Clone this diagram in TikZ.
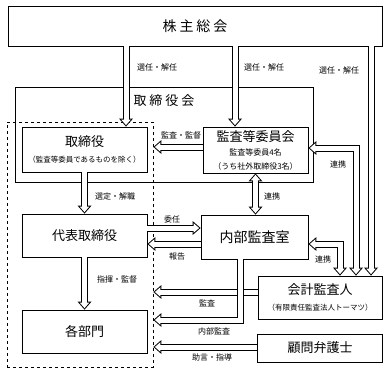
\documentclass[tikz,border=0pt]{standalone}
\usepackage{fontspec}
\setmainfont{Noto Sans CJK JP}
\usetikzlibrary{arrows.meta}

\newcommand{\fsize}[1]{\fontsize{#1}{#1}\selectfont}

\begin{document}
\begin{tikzpicture}[x=1pt, y=-1pt,
    box/.style={draw, line width=0.8pt, inner sep=0pt, align=center, font=\fsize{13}},
    lbl/.style={inner sep=0pt, font=\fsize{8}},
    harrow/.style={line width=7pt, line join=miter,
        -{Triangle[length=8pt, width=14pt, line width=0pt]},
        postaction={draw=white, line width=5pt, shorten >=1.5pt,
            -{Triangle[length=5.5pt, width=9.6pt, line width=0pt]}}},
    hboth/.style={line width=7pt, line join=miter,
        {Triangle[length=8pt, width=14pt, line width=0pt]}-{Triangle[length=8pt, width=14pt, line width=0pt]},
        postaction={draw=white, line width=5pt, shorten >=1.5pt, shorten <=1.5pt,
            {Triangle[length=5.5pt, width=9.6pt, line width=0pt]}-{Triangle[length=5.5pt, width=9.6pt, line width=0pt]}}}]
    \useasboundingbox (0,0) rectangle (387,372);

    % 1. Boxes
    \node[box, minimum width=374pt, minimum height=40pt, font=\fsize{14}] (kabu) at (195,26) {株\kern3pt 主\kern3pt 総\kern3pt 会};
    \node[box, minimum width=298pt, minimum height=95pt] (board) at (164,134.5) {};
    \node[inner sep=0pt, font=\fsize{13}] (boardtitle) at (164,101) {取\kern3pt 締\kern3pt 役\kern3pt 会};
    \node[draw, dashed, line width=0.8pt, minimum width=146pt, minimum height=245pt] (dash) at (80,244.5) {};

    \node[box, minimum width=125pt, minimum height=45pt] (tori) at (84.5,149.5) {取締役\\[3pt]\fsize{7.5}（監査等委員であるものを除く）};
    \node[box, minimum width=125pt, minimum height=43pt] (daihyo) at (84.5,235.5) {代表取締役};
    \node[box, minimum width=125pt, minimum height=43pt] (kakubu) at (84.5,331.5) {各部門};

    \node[box, minimum width=105pt, minimum height=46pt] (kansa) at (255.5,150) {監査等委員会\\[1pt]\fsize{8}監査等委員4名\\[1pt]\fsize{8}（うち社外取締役3名）};
    \node[box, minimum width=107pt, minimum height=44pt, font=\fsize{14}] (naibu) at (254.5,237) {内部監査室};
    \node[box, minimum width=124pt, minimum height=43pt] (kaikei) at (320,297.5) {会計監査人\\[3pt]\fsize{7.5}（有限責任監査法人トーマツ）};
    \node[box, minimum width=125pt, minimum height=28pt] (komon) at (320,348) {顧問弁護士};

    % 2. Arrows from the shareholders
    \draw[harrow] ([xshift=-69pt]kabu.south) -- ([xshift=41.5pt]tori.north);
    \draw[harrow] ([xshift=40pt]kabu.south) -- ([xshift=-20.5pt]kansa.north);
    \draw[harrow] ([xshift=176pt]kabu.south) -- ([xshift=51pt]kaikei.north);

    % 3. Arrows inside the board
    \draw[harrow] ([yshift=3pt]kansa.west) -- ([yshift=3pt]kansa.west -| dash.east);
    \draw[harrow] (tori.south) -- (daihyo.north);
    \draw[harrow] ([yshift=7.5pt]daihyo.east) -- ([yshift=7.5pt]daihyo.east -| naibu.west);
    \draw[harrow] ([yshift=-7pt]naibu.west) -- ([yshift=-7pt]naibu.west -| daihyo.east);
    \draw[hboth] (kansa.south) -- (kansa.south |- naibu.north);
    \draw[harrow] (daihyo.south) -- (kakubu.north);

    % 4. Links to the auditor
    \draw[hboth] ([yshift=2pt]kansa.east) -| ([xshift=36pt]kaikei.north);
    \draw[hboth] ([yshift=-7pt]naibu.east) -| ([xshift=20pt]kaikei.north);

    % 5. Audit and advice
    \draw[harrow] ([yshift=5.5pt]kaikei.west) -- ([yshift=5.5pt]kaikei.west -| dash.east);
    \draw[harrow] ([xshift=-14pt]naibu.south) |- ([yshift=-22.5pt]kaikei.west -| dash.east);
    \draw[harrow] ([yshift=1pt]komon.west) -- ([yshift=1pt]komon.west -| dash.east);

    % 6. Labels
    \node[lbl] (l1) at (157,67) {選任・解任};
    \node[lbl] (l2) at (264,67) {選任・解任};
    \node[lbl] (l3) at (339,70) {選任・解任};
    \node[lbl] (l4) at (181,135) {監査・監督};
    \node[lbl] (l5) at (115,196) {選定・解職};
    \node[lbl] (l6) at (272,196) {連携};
    \node[lbl] (l7) at (338,164) {連携};
    \node[lbl] (l8) at (323,259) {連携};
    \node[lbl] (l9) at (172,219) {委任};
    \node[lbl] (l10) at (177,256) {報告};
    \node[lbl] (l11) at (117,279) {指揮・監督};
    \node[lbl] (l12) at (207,303) {監査};
    \node[lbl] (l13) at (214,331) {内部監査};
    \node[lbl] (l14) at (212,357) {助言・指導};
\end{tikzpicture}
\end{document}
